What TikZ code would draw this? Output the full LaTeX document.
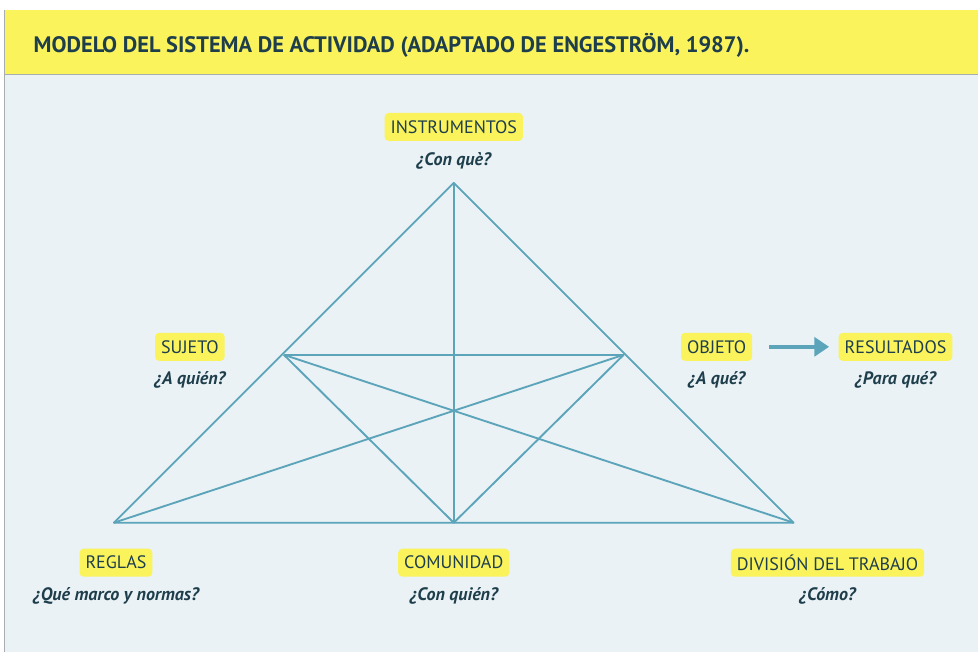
\documentclass[tikz,border=0pt]{standalone}
\usepackage{fontspec}
\setmainfont{PT Sans}
\definecolor{band}{HTML}{FAF35C}
\definecolor{paper}{HTML}{EAF2F5}
\definecolor{ink}{HTML}{1E3E4C}
\definecolor{edge}{HTML}{5BA4B9}
\definecolor{rim}{HTML}{A8AEB0}
\usetikzlibrary{arrows.meta}
\usetikzlibrary{positioning}
\tikzstyle{base}=[x=0.75pt, y=-0.75pt]
\tikzstyle{tag}=[fill=band, rounded corners=3pt, inner xsep=4.5pt, minimum height=21pt, text=ink, font=\fontsize{13.5}{15}\selectfont]
\tikzstyle{ask}=[text=ink, inner sep=0pt, font=\bfseries\itshape\fontsize{13.5}{15}\selectfont]
\tikzstyle{side}=[edge, line width=1.4pt, line join=round]

\begin{document}
\begin{tikzpicture}[base]
    % panel and header
    \fill [white] (0,0) rectangle (979,652);
    \fill [paper] (4,75) rectangle (979,652);
    \fill [band] (4,10) rectangle (979,75);
    \draw [rim, line width=0.8pt] (4,75) -- (979,75);
    \draw [rim, line width=0.5pt] (4,10) -- (4,652);
    \node [anchor=west, text=ink, font=\bfseries\fontsize{16.8}{19}\selectfont] (title) at (29,45)
        {MODELO DEL SISTEMA DE ACTIVIDAD (ADAPTADO DE ENGESTRÖM, 1987).};

    % triangle
    \coordinate (top) at (454,183);
    \coordinate (bl) at (114,523);
    \coordinate (br) at (794,523);
    \coordinate (ml) at (284,355);
    \coordinate (mr) at (624,355);
    \coordinate (bm) at (454,523);
    \draw [side] (top) -- (bl) -- (br) -- cycle;
    \draw [side] (top) -- (bm);
    \draw [side] (ml) -- (mr);
    \draw [side] (ml) -- (bm) -- (mr);
    \draw [side] (ml) -- (br);
    \draw [side] (mr) -- (bl);

    % labels
    \node [tag] (instr) at (454,127) {INSTRUMENTOS};
    \node [ask, below=8pt of instr] (instrq) {¿Con què?};
    \node [tag] (sujeto) at (190,347) {SUJETO};
    \node [ask, below=8pt of sujeto] (sujetoq) {¿A quién?};
    \node [tag] (objeto) at (717,347) {OBJETO};
    \node [ask, below=8pt of objeto] (objetoq) {¿A qué?};
    \node [tag] (result) at (896,347) {RESULTADOS};
    \node [ask, below=8pt of result] (resultq) {¿Para qué?};
    \node [tag] (reglas) at (116,563) {REGLAS};
    \node [ask, below=8pt of reglas] (reglasq) {¿Qué marco y normas?};
    \node [tag] (comun) at (454,563) {COMUNIDAD};
    \node [ask, below=8pt of comun] (comunq) {¿Con quién?};
    \node [tag] (divis) at (828,563) {DIVISIÓN DEL TRABAJO};
    \node [ask, below=8pt of divis] (divisq) {¿Cómo?};

    \draw [edge, line width=3pt, -{Triangle[length=11pt, width=14pt]}]
        (objeto.east) ++(17,0) coordinate (from) (from) -- ([xshift=-7]result.west);

    \path [use as bounding box] (0,0) rectangle (979,652);
\end{tikzpicture}
\end{document}
